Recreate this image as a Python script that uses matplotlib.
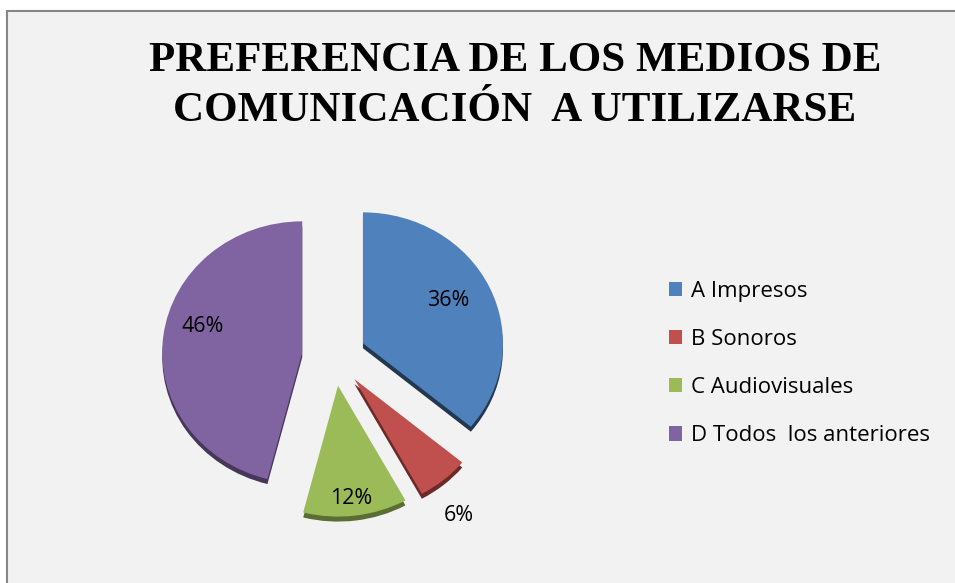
import numpy as np
import matplotlib.pyplot as plt
from matplotlib.patches import Rectangle

# Datos del gráfico
categorias = ['A Impresos', 'B Sonoros', 'C Audiovisuales', 'D Todos  los anteriores']
porcentajes = [36, 6, 12, 46]
colores = ['#4F81BD', '#C0504D', '#9BBB59', '#8064A2']
sombras = ['#22384F', '#6B2A28', '#5A6E33', '#46375A']

W, H = 955, 583
k = 0.935   # aplastamiento vertical (inclinación 3D)
fig = plt.figure(figsize=(W / 100, H / 100), dpi=100)
fig.patch.set_facecolor('white')
ax = fig.add_axes([0, 0, 1, 1])

# Marco del área del gráfico
ax.add_patch(Rectangle((7, -10), W, (H - 11) / k + 10, fc='#F2F2F2', ec='#868686', lw=1.5, zorder=0))

centro = (334, (H - 356) / k)
radio = 140
explotar = [32] * 4   # en unidades de datos

# Sombra (efecto 3D)
ax.pie(porcentajes, colors=sombras, startangle=90, counterclock=False, explode=explotar,
       radius=radio, center=(centro[0], centro[1] - 5 / k), frame=True,
       wedgeprops=dict(linewidth=0, zorder=1))

wedges, textos, autotextos = ax.pie(
    porcentajes, colors=colores, startangle=90, counterclock=False, explode=explotar,
    radius=radio, center=centro, frame=True, autopct='%1.0f%%', pctdistance=0.75,
    textprops=dict(family='Open Sans', fontsize=15.5, color='black'),
    wedgeprops=dict(linewidth=0, zorder=2))

# Distancia y giro de cada etiqueta (la del 6% va fuera de la porción)
dist = [0.69, 1.28, 0.87, 0.74]
giro = [3, -4, -1, -8]
for w, t, d, g in zip(wedges, autotextos, dist, giro):
    ang = np.deg2rad((w.theta1 + w.theta2) / 2 + g)
    cx, cy = w.center
    t.set_position((cx + d * radio * np.cos(ang), cy + d * radio * np.sin(ang)))
    t.set_zorder(5)

ax.set_xlim(0, W)
ax.set_ylim(0, H / k)
ax.set_aspect('auto')
ax.axis('off')

fig.text(515 / W, 1 - 86 / H, 'PREFERENCIA DE LOS MEDIOS DE\nCOMUNICACIÓN  A UTILIZARSE',
         ha='center', va='center', family='Liberation Serif', weight='bold',
         fontsize=31, linespacing=1.38)

ax.legend(wedges, categorias, loc='upper left', bbox_to_anchor=(669 / W, 1 - 281 / H),
          bbox_transform=fig.transFigure, frameon=False,
          prop=dict(family='Open Sans', size=16), handlelength=0.6, handleheight=0.6,
          handletextpad=0.4, labelspacing=1.22, borderpad=0, borderaxespad=0)

fig.savefig('out.png', dpi=100)
